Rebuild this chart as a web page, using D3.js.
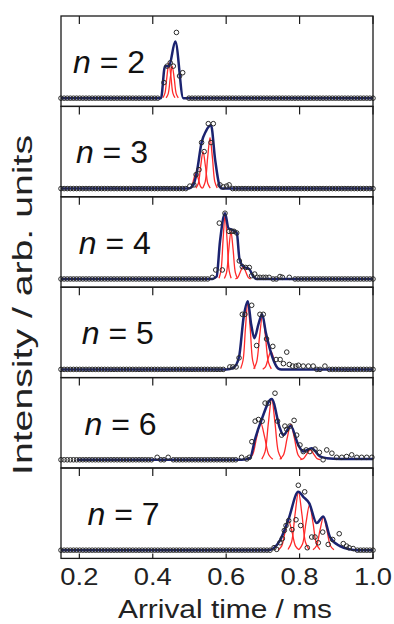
<!DOCTYPE html>
<html>
<head>
<meta charset="utf-8">
<script src="https://cdn.jsdelivr.net/npm/d3@7"></script>
<style>
  html, body { margin: 0; padding: 0; background: #fff; }
  svg { display: block; font-family: "Liberation Sans", Arial, sans-serif; }
</style>
</head>
<body>
<div id="chart"></div>
<script>
// cluster sizes, one panel each
const clusterSizes = [2, 3, 4, 5, 6, 7]
const xTicks = [0.2, 0.4, 0.6, 0.8, 1.0]
// arrival-time sampling grid of the measurement (ms)
const sampleTimes = d3.range(0, 101).map(i => 0.15 + i * 0.0085)

// measured points above baseline: [arrival time (ms), intensity]
const data2 = [[0.4305,0.19],[0.439,0.39],[0.4475,0.43],[0.456,0.39],[0.4645,0.80],[0.473,0.27],[0.4815,0.31]]
const data3 = [[0.501,0.03],[0.512,0.045],[0.518,0.17],[0.526,0.23],[0.533,0.56],[0.540,0.45],[0.5513,0.79],
  [0.5587,0.56],[0.5649,0.79],[0.583,0.045],[0.592,0.02],[0.601,0.03],[0.608,0.045]]
const data4 = [[0.562,0.02],[0.5715,0.11],[0.5813,0.68],[0.5894,0.11],[0.5968,0.80],[0.6077,0.58],[0.615,0.58],
  [0.6213,0.58],[0.6287,0.56],[0.6358,0.22],[0.644,0.15],[0.6532,0.14],[0.663,0.14],[0.6695,0.04],[0.6777,0.06],
  [0.6848,0.02],[0.692,0.02],[0.701,0.02],[0.708,0.02],[0.717,0.02],[0.7466,0.03],[0.753,0.02],[0.772,0.02]]
const data5 = [[0.610,0.03],[0.618,0.03],[0.627,0.03],[0.635,0.14],[0.644,0.67],[0.651,0.67],[0.6695,0.78],
  [0.683,0.29],[0.692,0.67],[0.701,0.67],[0.710,0.37],[0.727,0.28],[0.736,0.12],[0.747,0.12],[0.756,0.07],
  [0.765,0.21],[0.772,0.06],[0.781,0.04],[0.790,0.04],[0.797,0.05],[0.81,0.04],[0.824,0.04],[0.837,0.04],[0.869,0.04]]
const data6 = [[0.412,0.03],[0.442,0.03],[0.642,0.03],[0.656,0.01],[0.663,0.03],[0.670,0.22],[0.679,0.47],
  [0.688,0.49],[0.698,0.47],[0.706,0.69],[0.715,0.69],[0.733,0.81],[0.740,0.47],[0.751,0.30],[0.760,0.41],
  [0.765,0.37],[0.774,0.41],[0.785,0.48],[0.792,0.30],[0.801,0.18],[0.810,0.10],[0.818,0.12],[0.828,0.10],
  [0.842,0.13],[0.854,0.09],[0.874,0.12],[0.888,0.08],[0.901,0.03],[0.915,0.03],[0.928,0.04],[0.942,0.06],
  [0.956,0.03],[0.969,0.03],[0.983,0.03],[0.997,0.03]]
const data7 = [[0.7303,0.03],[0.7377,0.01],[0.7466,0.09],[0.7529,0.14],[0.7584,0.24],[0.763,0.30],[0.7703,0.36],
  [0.7793,0.25],[0.7902,0.37],[0.7965,0.79],[0.803,0.30],[0.8139,0.71],[0.821,0.03],[0.833,0.16],[0.842,0.16],
  [0.851,0.09],[0.863,0.22],[0.878,0.07],[0.890,0.13],[0.908,0.20],[0.919,0.08],[0.928,0.05],[0.935,0.03],[0.946,0.02]]

// blue overall fit
const fit2 = [[0.15,0],[0.4224,0],[0.4333,0.39],[0.4442,0.39],[0.4614,0.69],[0.4832,0],[1.0,0]]
const fit3 = [[0.15,0],[0.497,0],[0.51,0.04],[0.52,0.2],[0.533,0.56],[0.545,0.7],[0.5587,0.77],[0.57,0.35],
  [0.583,0.02],[0.588,0],[1.0,0]]
const fit4 = [[0.15,0],[0.562,0],[0.574,0.03],[0.583,0.45],[0.597,0.8],[0.606,0.62],[0.615,0.6],[0.629,0.56],
  [0.636,0.25],[0.647,0.15],[0.663,0.12],[0.674,0.03],[0.683,0],[1.0,0]]
const fit5 = [[0.15,0],[0.600,0],[0.62,0.02],[0.635,0.15],[0.648,0.65],[0.659,0.83],[0.668,0.55],[0.677,0.38],
  [0.688,0.55],[0.698,0.67],[0.708,0.45],[0.719,0.25],[0.73,0.1],[0.742,0.01],[0.75,0],[1.0,0]]
const fit6 = [[0.193,0],[0.6423,0],[0.665,0.02],[0.6785,0.25],[0.6966,0.49],[0.724,0.74],[0.7466,0.38],
  [0.7556,0.30],[0.7757,0.41],[0.7965,0.18],[0.8101,0.10],[0.8329,0.14],[0.8556,0.04],[0.8739,0.02],[0.91,0.01],[1.0,0.01]]
const fit7 = [[0.15,0],[0.7148,0],[0.7466,0.12],[0.7694,0.37],[0.7965,0.71],[0.8101,0.65],[0.8265,0.57],
  [0.8466,0.33],[0.8646,0.41],[0.8829,0.16],[0.91,0.05],[0.9374,0.01],[0.9556,0],[1.0,0]]

// red conformer components
const comps2 = [
  [[0.4275,0.005],[0.433,0.058],[0.4385,0.26],[0.444,0.43],[0.4495,0.26],[0.455,0.058],[0.4605,0.005]],
  [[0.4365,0.004],[0.442,0.053],[0.4475,0.237],[0.453,0.39],[0.4585,0.237],[0.464,0.053],[0.4695,0.004]]
]
const comps3 = [
  [[0.500,0.002],[0.506,0.027],[0.512,0.121],[0.518,0.2],[0.524,0.121],[0.530,0.027],[0.536,0.002]],
  [[0.5175,0.005],[0.524,0.061],[0.5305,0.273],[0.537,0.45],[0.5435,0.273],[0.550,0.061],[0.5565,0.005]],
  [[0.5365,0.007],[0.543,0.084],[0.5495,0.376],[0.556,0.62],[0.5625,0.376],[0.569,0.084],[0.5755,0.007]]
]
const comps4 = [
  [[0.5805,0.009],[0.586,0.105],[0.5915,0.473],[0.597,0.78],[0.6025,0.473],[0.608,0.105],[0.6135,0.009]],
  [[0.595,0.006],[0.601,0.078],[0.607,0.352],[0.613,0.58],[0.619,0.352],[0.625,0.078],[0.631,0.006]],
  [[0.625,0.002],[0.632,0.02],[0.639,0.091],[0.646,0.15],[0.653,0.091],[0.660,0.02],[0.667,0.002]]
]
const comps5 = [
  [[0.6395,0.009],[0.646,0.111],[0.6525,0.498],[0.659,0.82],[0.6655,0.498],[0.672,0.111],[0.6785,0.009]],
  [[0.675,0.007],[0.683,0.089],[0.691,0.401],[0.699,0.66],[0.707,0.401],[0.715,0.089],[0.723,0.007]],
  [[0.6995,0.002],[0.707,0.03],[0.7145,0.134],[0.722,0.22],[0.7295,0.134],[0.737,0.03],[0.7445,0.002]]
]
const comps6 = [
  [[0.661,0.005],[0.672,0.061],[0.683,0.273],[0.694,0.45],[0.705,0.273],[0.716,0.061],[0.727,0.005]],
  [[0.697,0.008],[0.706,0.1],[0.715,0.449],[0.724,0.74],[0.733,0.449],[0.742,0.1],[0.751,0.008]],
  [[0.746,0.005],[0.756,0.058],[0.766,0.261],[0.776,0.43],[0.786,0.261],[0.796,0.058],[0.806,0.005]],
  [[0.802,0.001],[0.811,0.016],[0.820,0.073],[0.829,0.12],[0.838,0.073],[0.847,0.016],[0.856,0.001]]
]
const comps7 = [
  [[0.7415,0.004],[0.751,0.049],[0.7605,0.219],[0.770,0.36],[0.7795,0.219],[0.789,0.049],[0.7985,0.004]],
  [[0.7685,0.008],[0.778,0.096],[0.7875,0.431],[0.797,0.71],[0.8065,0.431],[0.816,0.096],[0.8255,0.008]],
  [[0.7985,0.006],[0.808,0.074],[0.8175,0.334],[0.827,0.55],[0.8365,0.334],[0.846,0.074],[0.8555,0.006]],
  [[0.8365,0.004],[0.846,0.054],[0.8555,0.243],[0.865,0.40],[0.8745,0.243],[0.884,0.054],[0.8935,0.004]]
]

const measured = [data2, data3, data4, data5, data6, data7]
const fits = [fit2, fit3, fit4, fit5, fit6, fit7]
const components = [comps2, comps3, comps4, comps5, comps6, comps7]

const width = 394
const height = 624
const plotLeft = 61
const plotRight = 373
const plotTop = 16
const panelH = 90.4
const navy = "#1b2370"
const red = "#ff2a2a"
const ink = "#1a1a1a"

const svg = d3.select("#chart")
  .append("svg")
  .attr("width", width)
  .attr("height", height)

svg.append("rect").attr("width", width).attr("height", height).attr("fill", "#fff")

const x = d3.scaleLinear().domain([0.15, 1.0]).range([plotLeft, plotRight])
const y = d3.scaleLinear().domain([-0.1, 1.0]).range([panelH, 0])

const fitLine = d3.line().x(d => x(d[0])).y(d => y(d[1])).curve(d3.curveMonotoneX)
const compLine = d3.line().x(d => x(d[0])).y(d => y(d[1])).curve(d3.curveCatmullRom)

clusterSizes.forEach((n, i) => {
  const g = svg.append("g").attr("transform", `translate(0,${plotTop + i * panelH})`)
  const pts = measured[i]

  // baseline samples: grid points with no measured signal nearby
  const baseline = sampleTimes
    .filter(t => !pts.some(p => Math.abs(p[0] - t) < 0.0095))
    .map(t => [t, 0])

  g.selectAll(".comp")
    .data(components[i])
    .enter()
    .append("path")
    .attr("class", "comp")
    .attr("d", compLine)
    .attr("fill", "none")
    .attr("stroke", red)
    .attr("stroke-width", 1.3)

  g.append("path")
    .attr("d", fitLine(fits[i]))
    .attr("fill", "none")
    .attr("stroke", navy)
    .attr("stroke-width", 2.5)

  g.selectAll(".pt")
    .data(baseline.concat(pts))
    .enter()
    .append("circle")
    .attr("class", "pt")
    .attr("cx", d => x(d[0]))
    .attr("cy", d => y(d[1]))
    .attr("r", 2.3)
    .attr("fill", "none")
    .attr("stroke", "#2a2a2a")
    .attr("stroke-width", 1)

  // frame
  g.append("rect")
    .attr("x", plotLeft)
    .attr("y", 0)
    .attr("width", plotRight - plotLeft)
    .attr("height", panelH)
    .attr("fill", "none")
    .attr("stroke", ink)
    .attr("stroke-width", 1.3)

  // inward ticks on the top edge
  g.selectAll(".tick-top")
    .data(xTicks)
    .enter()
    .append("line")
    .attr("x1", d => x(d))
    .attr("x2", d => x(d))
    .attr("y1", 0)
    .attr("y2", 8)
    .attr("stroke", ink)
    .attr("stroke-width", 1.2)

  if (i === clusterSizes.length - 1) {
    g.selectAll(".tick-bottom")
      .data(xTicks)
      .enter()
      .append("line")
      .attr("x1", d => x(d))
      .attr("x2", d => x(d))
      .attr("y1", panelH)
      .attr("y2", panelH - 5)
      .attr("stroke", ink)
      .attr("stroke-width", 1.2)
  }

  const label = g.append("text")
    .attr("x", 73 + i * 2.9)
    .attr("y", 57)
    .attr("font-size", 32)
    .attr("fill", "#111")
  label.append("tspan").attr("font-style", "italic").text("n")
  label.append("tspan").text(` = ${n}`)
})

const plotBottom = plotTop + clusterSizes.length * panelH

svg.selectAll(".xlabel")
  .data(xTicks)
  .enter()
  .append("text")
  .attr("class", "xlabel")
  .attr("x", d => x(d))
  .attr("y", plotBottom + 27)
  .attr("text-anchor", "middle")
  .attr("font-size", 23.5)
  .attr("textLength", 38)
  .attr("lengthAdjust", "spacingAndGlyphs")
  .attr("fill", "#222")
  .text(d => d.toFixed(1))

svg.append("text")
  .attr("x", 225)
  .attr("y", plotBottom + 60)
  .attr("text-anchor", "middle")
  .attr("font-size", 25)
  .attr("textLength", 214)
  .attr("lengthAdjust", "spacingAndGlyphs")
  .attr("fill", "#222")
  .text("Arrival time / ms")

svg.append("text")
  .attr("transform", "translate(32,305) rotate(-90)")
  .attr("text-anchor", "middle")
  .attr("font-size", 27)
  .attr("textLength", 340)
  .attr("lengthAdjust", "spacingAndGlyphs")
  .attr("fill", "#222")
  .text("Intensity / arb. units")
</script>
</body>
</html>
